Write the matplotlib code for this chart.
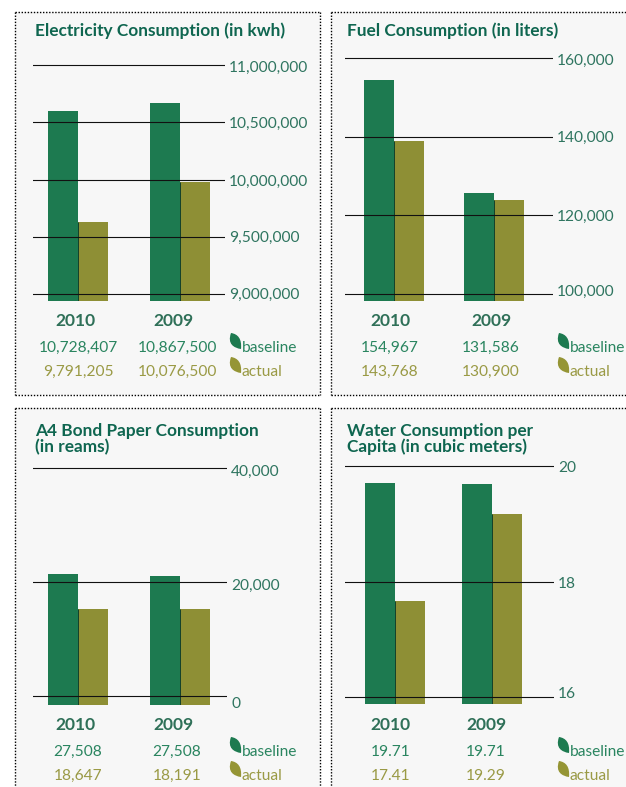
import matplotlib
matplotlib.use('Agg')
import matplotlib.pyplot as plt
from matplotlib.patches import PathPatch, Rectangle
from matplotlib.path import Path
from matplotlib.transforms import ScaledTranslation

plt.rcParams['font.family'] = ['Lato', 'DejaVu Sans']

years = ['2010', '2009']

elec_base = [10596000, 10667000]
elec_actual = [9630000, 9980000]
fuel_base = [154400, 125600]
fuel_actual = [138800, 123800]
paper_base = [21400, 21050]
paper_actual = [15260, 15260]
water_base = [19.70, 19.68]
water_actual = [17.66, 19.17]

# printed figures under the bars
elec_base_txt = ['10,728,407', '10,867,500']
elec_actual_txt = ['9,791,205', '10,076,500']
fuel_base_txt = ['154,967', '131,586']
fuel_actual_txt = ['143,768', '130,900']
paper_base_txt = ['27,508', '27,508']
paper_actual_txt = ['18,647', '18,191']
water_base_txt = ['19.71', '19.71']
water_actual_txt = ['17.41', '19.29']

elec_ticks = [9000000, 9500000, 10000000, 10500000, 11000000]
fuel_ticks = [100000, 120000, 140000, 160000]
paper_ticks = [0, 20000, 40000]
water_ticks = [16, 18, 20]

GREEN = '#1d7a50'
OLIVE = '#8e8f35'
TITLE = '#0f6650'
TICK = '#2f7560'
LGREEN = '#2a8560'
LOLIVE = '#9a9a45'

W, H = 626, 787
fig = plt.figure(figsize=(W / 100, H / 100), dpi=100, facecolor='white')
bg = fig.add_axes([0, 0, 1, 1])
bg.set_xlim(0, W)
bg.set_ylim(H, 0)
bg.axis('off')


def box(x0, y0, x1, y1, right=True, bottom=True):
    bg.add_patch(Rectangle((x0, y0), x1 - x0, y1 - y0, fc='#f7f7f7', ec='none'))
    kw = dict(color='#000000', lw=1.0, ls=(0, (1, 1.2)))
    bg.plot([x0, x1], [y0, y0], **kw)
    bg.plot([x0, x0], [y0, y1], **kw)
    if right:
        bg.plot([x1, x1], [y0, y1], **kw)
    if bottom:
        bg.plot([x0, x1], [y1, y1], **kw)


def leaf(cx, cy, color):
    # fat little leaf, tips at upper left and lower right
    verts = [(cx - 4, cy - 8), (cx + 3, cy - 7), (cx + 7, cy - 2), (cx + 6, cy + 8),
             (cx - 1, cy + 7), (cx - 8, cy + 3), (cx - 4, cy - 8)]
    codes = [Path.MOVETO, Path.CURVE4, Path.CURVE4, Path.CURVE4, Path.CURVE4, Path.CURVE4, Path.CURVE4]
    bg.add_patch(PathPatch(Path(verts, codes), fc=color, ec='none'))


def panel(title, base, actual, base_txt, actual_txt, ticks, fmt, shifts,
          left, right, top_px, bot_px, grid_top, grid_bot,
          c0, dx, bw, title_x, title_y, year_x, base_x, year_y, leg_x):
    # axes spans the pixel box, y limits worked out from where the gridlines sit
    per_px = (ticks[-1] - ticks[0]) / (grid_bot - grid_top)
    y_lo = ticks[0] - (bot_px - grid_bot) * per_px
    y_hi = ticks[-1] + (grid_top - top_px) * per_px
    ax = fig.add_axes([left / W, 1 - bot_px / H, (right - left) / W, (bot_px - top_px) / H])
    ax.patch.set_alpha(0)
    ax.set_xlim((left - c0) / dx, (right - c0) / dx)
    ax.set_ylim(y_lo, y_hi)
    w = bw / dx
    pos = [0, 1]
    ax.bar([p - w / 2 for p in pos], [b - y_lo for b in base], w, bottom=y_lo, color=GREEN, zorder=1)
    ax.bar([p + w / 2 for p in pos], [a - y_lo for a in actual], w, bottom=y_lo, color=OLIVE, zorder=1)
    ax.vlines(pos, y_lo, actual, color='#12402a', lw=0.7, zorder=2)
    ax.set_yticks(ticks)
    ax.set_yticklabels([fmt(t) for t in ticks], fontsize=11.2, color=TICK)
    ax.yaxis.tick_right()
    ax.tick_params(axis='y', length=0, pad=3)
    # the printed labels do not sit exactly on their lines
    for lab, s in zip(ax.get_yticklabels(), shifts):
        lab.set_transform(lab.get_transform() + ScaledTranslation(0, -s / 100, fig.dpi_scale_trans))
    ax.set_xticks([])
    ax.grid(axis='y', color='#111111', lw=0.8)
    ax.set_axisbelow(False)
    for s in ax.spines.values():
        s.set_visible(False)

    bg.text(title_x, title_y, title, fontsize=12.4, fontweight='bold', color=TITLE,
            va='center', linespacing=1.0)
    for i in pos:
        bg.text(year_x[i], year_y, years[i], fontsize=12.5, fontweight='bold', color='#2f7058',
                ha='center', va='center')
        bg.text(base_x[i], year_y + 27, base_txt[i], fontsize=11.2, color=LGREEN, ha='center', va='center')
        bg.text(base_x[i], year_y + 51, actual_txt[i], fontsize=11.2, color=LOLIVE, ha='center', va='center')
    leaf(leg_x, year_y + 20, GREEN)
    leaf(leg_x, year_y + 44, '#959535')
    bg.text(leg_x + 7, year_y + 27, 'baseline', fontsize=11.2, color=LGREEN, va='center')
    bg.text(leg_x + 7, year_y + 51, 'actual', fontsize=11.2, color=LOLIVE, va='center')


box(15, 12, 320, 395)
box(331, 12, 628, 395, right=False)
box(15, 408, 320, 790, bottom=False)
box(331, 408, 628, 790, right=False, bottom=False)

comma = lambda v: f'{v:,}'

panel('Electricity Consumption (in kwh)', elec_base, elec_actual, elec_base_txt, elec_actual_txt,
      elec_ticks, comma, [-1, 0, 1, 0, 1], 33, 225, 60, 301, 65, 294,
      78, 102, 30, 35, 31, [75, 173], [78, 177], 321, 235)
panel('Fuel Consumption (in liters)', fuel_base, fuel_actual, fuel_base_txt, fuel_actual_txt,
      fuel_ticks, comma, [-4, 0, 0, 1], 345, 553, 53, 301, 58, 294,
      394, 100, 30, 347, 31, [390, 491], [390, 491], 321, 563)
panel('A4 Bond Paper Consumption\n(in reams)', paper_base, paper_actual, paper_base_txt, paper_actual_txt,
      paper_ticks, comma, [7, 2, 2], 33, 227, 463, 705, 468, 696,
      78, 102, 30, 35, 439, [75, 173], [78, 177], 725, 235)
panel('Water Consumption per\nCapita (in cubic meters)', water_base, water_actual, water_base_txt, water_actual_txt,
      water_ticks, str, [-5, 1, 1], 345, 554, 461, 704, 466, 697,
      395, 97, 30, 347, 439, [390, 486], [391, 486], 725, 563)

fig.savefig('out.png', dpi=100)
